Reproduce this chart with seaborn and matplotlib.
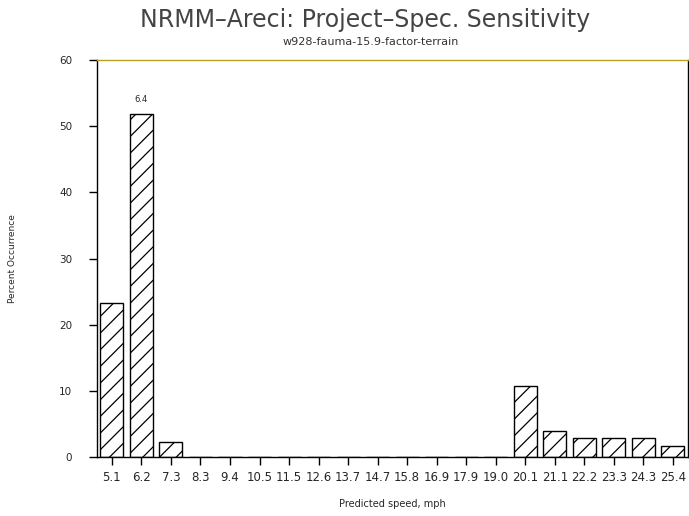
import matplotlib
matplotlib.use("Agg")
import matplotlib.pyplot as plt
import seaborn as sns
import pandas as pd

speeds = ["5.1", "6.2", "7.3", "8.3", "9.4", "10.5", "11.5", "12.6", "13.7", "14.7",
          "15.8", "16.9", "17.9", "19.0", "20.1", "21.1", "22.2", "23.3", "24.3", "25.4"]
percent = [23.3, 51.8, 2.3, 0, 0, 0, 0, 0, 0, 0,
           0, 0, 0, 0, 10.7, 3.9, 2.9, 2.9, 2.9, 1.7]
yticks = [0, 10, 20, 30, 40, 50, 60]

sns.set_theme(style="white")
plt.rcParams["font.family"] = ["DejaVu Sans"]
plt.rcParams["hatch.linewidth"] = 0.9

df = pd.DataFrame({"speed": speeds, "pct": percent})

fig = plt.figure(figsize=(6.89, 5.16), dpi=100)
ax = fig.add_axes([0.141, 0.114, 0.857, 0.770])
sns.barplot(data=df, x="speed", y="pct", order=speeds, color="white",
            edgecolor="black", linewidth=1.0, width=0.78, ax=ax, saturation=1)
for p in ax.patches:
    p.set_hatch("//")

ax.set_xlim(-0.5, len(speeds) - 0.5)
ax.set_ylim(0, 60)
ax.set_yticks(yticks)
ax.set_yticklabels([str(t) for t in yticks])

for s in ax.spines.values():
    s.set_color("black")
    s.set_linewidth(1.0)
ax.spines["top"].set_color("#b8a020")

ax.tick_params(axis="both", direction="out", length=6, width=1, color="black",
               labelsize=8, bottom=True, left=True)
ax.tick_params(axis="x", pad=4, labelsize=8.5)
ax.tick_params(axis="y", pad=12, labelsize=7.5)

ax.set_xlabel("Predicted speed, mph", fontsize=7)
ax.set_ylabel("Percent Occurrence", fontsize=6.5)
ax.xaxis.set_label_coords(0.5, -0.105)
ax.yaxis.set_label_coords(-0.135, 0.5)

ax.text(1, 53.3, "6.4", ha="center", va="bottom", fontsize=6)

fig.text(0.53, 0.962, "NRMM\u2013Areci: Project\u2013Spec. Sensitivity", ha="center",
         va="center", fontsize=17, color="#444444")
fig.text(0.538, 0.918, "w928-fauma-15.9-factor-terrain", ha="center", va="center",
         fontsize=8, color="#333333")

fig.savefig("out.png", dpi=100)
